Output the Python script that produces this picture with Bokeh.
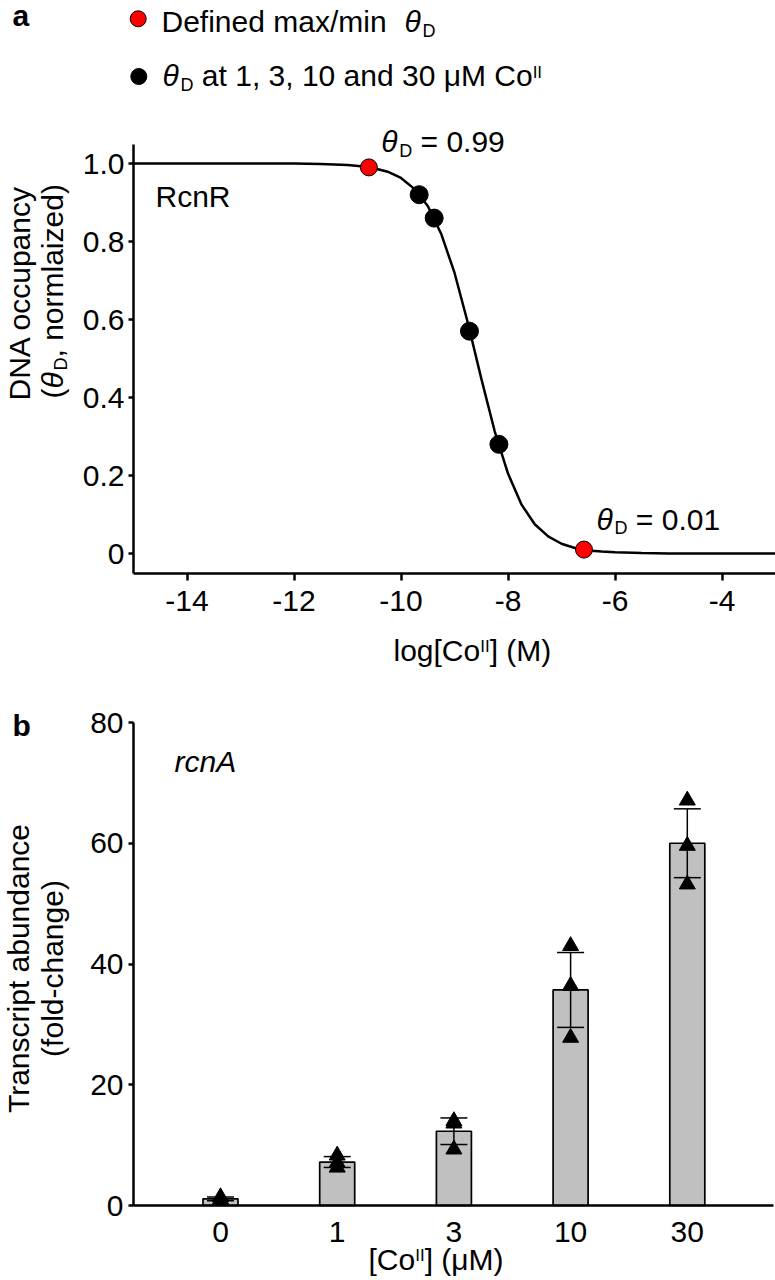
import math
from bokeh.plotting import figure
from bokeh.models import Label, Range1d, FixedTicker
from bokeh.layouts import column
from bokeh.embed import file_html
from bokeh.resources import INLINE

# ---------------- data: panel a ----------------
curve_log_co = [-15, -14, -13, -12, -11.5, -11, -10.75, -10.5, -10.25, -10, -9.75, -9.5,
                -9.25, -9, -8.75, -8.5, -8.25, -8, -7.75, -7.5, -7.25, -7, -6.75, -6.5,
                -6.25, -6, -5.5, -5, -4, -3]
curve_theta = [1.000, 1.000, 1.000, 1.000, 0.999, 0.996, 0.993, 0.988, 0.979, 0.963, 0.935, 0.891,
               0.820, 0.720, 0.591, 0.449, 0.314, 0.205, 0.126, 0.075, 0.044, 0.025, 0.014, 0.008,
               0.005, 0.003, 0.001, 0.000, 0.000, 0.000]
limit_log_co = [-10.6, -6.58]
limit_theta = [0.99, 0.01]
co_log_co = [-9.66, -9.38, -8.72, -8.17]
co_theta = [0.92, 0.86, 0.57, 0.28]
a_xticks = [-14, -12, -10, -8, -6, -4]
a_xtick_labels = ["-14", "-12", "-10", "-8", "-6", "-4"]
a_yticks = [0, 0.2, 0.4, 0.6, 0.8, 1.0]
a_ytick_labels = ["0", "0.2", "0.4", "0.6", "0.8", "1.0"]

# ---------------- data: panel b ----------------
co_um = ["0", "1", "3", "10", "30"]
fold_mean = [1.1, 7.2, 12.3, 35.7, 60.0]
fold_err = [0.3, 0.9, 2.2, 6.2, 5.7]
fold_reps = [[0.9, 1.0, 1.4], [8.3, 7.1, 6.3], [14.0, 13.6, 9.3], [43.0, 36.4, 27.8], [67.1, 59.6, 53.2]]
b_yticks = [0, 20, 40, 60, 80]

FONT = "Liberation Sans"
W = 775
HA, HB = 690, 590
BASE_K = 0.4   # rendered alphabetic baseline sits this many em below the anchor

ADV = {' ': 278, '(': 333, ')': 333, ',': 278, '-': 333, '.': 278, '/': 278, '=': 584,
       '[': 278, ']': 278, 'A': 667, 'C': 722, 'D': 722, 'I': 278, 'M': 833, 'N': 722,
       'R': 722, 'T': 611, 'a': 556, 'b': 556, 'c': 500, 'd': 556, 'e': 556, 'f': 278,
       'g': 556, 'h': 556, 'i': 222, 'l': 222, 'm': 833, 'n': 556, 'o': 556, 'p': 556,
       'r': 333, 's': 500, 't': 278, 'u': 556, 'x': 500, 'y': 500, 'z': 500,
       'μ': 576, 'θ': 556}
for d in "0123456789":
    ADV[d] = 556


def tw(s, size):
    return sum(ADV.get(c, 556) for c in s) / 1000.0 * size


def put(p, conv, cx, cy, text, size, style, align, angle):
    fix = BASE_K * size
    if angle == 0:
        cy -= fix
    else:
        cx -= fix
    dx, dy = conv(cx, cy)
    p.add_layout(Label(x=dx, y=dy, text=text, text_font=FONT,
                       text_font_size=f"{size}px", text_font_style=style,
                       text_align=align, text_baseline="alphabetic",
                       angle=angle, text_color="black"))


def runs(p, conv, x, y, pieces, angle=0.0):
    for text, size, style, shift in pieces:
        lead = len(text) - len(text.lstrip(' '))
        trail = len(text) - len(text.rstrip(' '))
        core = text.strip(' ')
        adv0 = lead * 0.278 * size
        if angle == 0:
            x += adv0
            cx, cy = x, y + shift
        else:
            y -= adv0
            cx, cy = x + shift, y
        put(p, conv, cx, cy, core, size, style, "left", angle)
        if core == "θ" and style == "italic":
            w = 0.6 * size
        else:
            w = tw(core, size)
        w += trail * 0.278 * size
        if angle == 0:
            x += w
        else:
            y -= w


def single(p, conv, x, y, text, size=30, style="normal", align="left", angle=0.0):
    put(p, conv, x, y, text, size, style, align, angle)


def style_axis(axis, tick_out, standoff):
    axis.axis_line_width = 2.5
    axis.axis_line_color = "black"
    axis.major_tick_line_width = 2.5
    axis.major_tick_line_color = "black"
    axis.major_tick_out = tick_out
    axis.major_tick_in = 0
    axis.minor_tick_line_color = None
    axis.major_label_text_font = FONT
    axis.major_label_text_font_size = "30px"
    axis.major_label_text_color = "black"
    axis.major_label_standoff = standoff


def base_fig(w, h, xr, yr):
    p = figure(width=w, height=h, output_backend="svg", toolbar_location=None,
               x_range=xr, y_range=yr, min_border=0, min_border_left=0,
               min_border_right=0, min_border_top=0, min_border_bottom=0)
    p.outline_line_color = None
    p.grid.visible = False
    p.background_fill_color = "white"
    p.border_fill_color = "white"
    return p


# ---------------- panel a (frame covers the whole canvas) ----------------
AX_L, AX_PPU = 133.0, 53.5          # canvas x of log = -15, px per log unit
AY_0, AY_PPU = 553.0, 390.0         # canvas y of theta = 0, px per unit
X_LEFT = -15.0
ya_axis = (AY_0 - 573) / AY_PPU     # x-axis line position
ya_top = (AY_0 - 144) / AY_PPU      # top of y-axis line


def ca(cx, cy):
    return X_LEFT + (cx - AX_L) / AX_PPU, (AY_0 - cy) / AY_PPU


pa = base_fig(W, HA,
              Range1d(ca(0, 0)[0], ca(W, 0)[0]),
              Range1d(ca(0, HA)[1], ca(0, 0)[1]))
style_axis(pa.xaxis[0], 7, 10)
style_axis(pa.yaxis[0], 5, 4)
pa.xaxis.fixed_location = ya_axis
pa.xaxis.bounds = (X_LEFT, -3)
pa.yaxis.fixed_location = X_LEFT
pa.yaxis.bounds = (ya_axis, ya_top)
pa.xaxis.ticker = FixedTicker(ticks=a_xticks)
pa.xaxis.major_label_overrides = dict(zip(a_xticks, a_xtick_labels))
pa.yaxis.ticker = FixedTicker(ticks=a_yticks)
pa.yaxis.major_label_overrides = dict(zip(a_yticks, a_ytick_labels))

pa.line(curve_log_co, curve_theta, line_color="black", line_width=2.5)
pa.scatter(co_log_co, co_theta, size=18, fill_color="black", line_color="black")
pa.scatter(limit_log_co, limit_theta, size=17, fill_color="#ff0000", line_color="black", line_width=1)

# legend markers
lx, ly1 = ca(137.7, 18.3)
lx2, ly2 = ca(138.3, 76)
pa.scatter([lx], [ly1], size=16, fill_color="#ff0000", line_color="black", line_width=1)
pa.scatter([lx2], [ly2], size=16, fill_color="black", line_color="black")

single(pa, ca, 12, 27, "a", style="bold")
runs(pa, ca, 161, 33.3, [("Defined max/min", 30, "normal", 0)])
runs(pa, ca, 404, 33.3, [("θ", 30, "italic", 0), ("D", 18, "normal", 4)])
runs(pa, ca, 162, 87.3, [("θ", 30, "italic", 0), ("D", 18, "normal", 4),
                         (" at 1, 3, 10 and 30 μM Co", 30, "normal", 0), ("II", 17, "normal", -9)])
runs(pa, ca, 380.7, 153.3, [("θ", 30, "italic", 0), ("D", 18, "normal", 4), (" = 0.99", 30, "normal", 0)])
runs(pa, ca, 596, 530.7, [("θ", 30, "italic", 0), ("D", 18, "normal", 4), (" = 0.01", 30, "normal", 0)])
single(pa, ca, 155, 208.3, "RcnR")
runs(pa, ca, 393, 661.7, [("log[Co", 30, "normal", 0), ("II", 17, "normal", -9), ("] (M)", 30, "normal", 0)])
runs(pa, ca, 31, 400, [("DNA occupancy", 30, "normal", 0)], angle=math.pi / 2)
runs(pa, ca, 64, 398, [("(", 30, "normal", 0), ("θ", 30, "italic", 0), ("D", 18, "normal", 4),
                       (", normlaized)", 30, "normal", 0)], angle=math.pi / 2)

# ---------------- panel b (frame covers the whole canvas) ----------------
x_pos = list(range(len(co_um)))
BX_0, BX_PPU = 220.0, 116.7          # canvas x of first category, px per category
BY_0, BY_PPU = 515.0, 483.0 / 80.0   # canvas y of fold = 0, px per unit


def cb(cx, cy):
    return (cx - BX_0) / BX_PPU, (BY_0 - cy) / BY_PPU


xb_axis0 = cb(133, 0)[0]
xb_axis1 = cb(773, 0)[0]

pb = base_fig(W, HB,
              Range1d(cb(0, 0)[0], cb(W, 0)[0]),
              Range1d(cb(0, HB)[1], cb(0, 0)[1]))
style_axis(pb.xaxis[0], 0, 16)
style_axis(pb.yaxis[0], 5, 5)
pb.xaxis.major_tick_line_color = None
pb.xaxis.fixed_location = 0
pb.xaxis.bounds = (xb_axis0, xb_axis1)
pb.xaxis.ticker = FixedTicker(ticks=x_pos)
pb.xaxis.major_label_overrides = dict(zip(x_pos, co_um))
pb.yaxis.fixed_location = xb_axis0
pb.yaxis.bounds = (0, 80)
pb.yaxis.ticker = FixedTicker(ticks=b_yticks)

lo = [m - e for m, e in zip(fold_mean, fold_err)]
hi = [m + e for m, e in zip(fold_mean, fold_err)]
rep_x = [i for i, reps in zip(x_pos, fold_reps) for _ in reps]
rep_y = [v for reps in fold_reps for v in reps]

pb.vbar(x=x_pos, top=fold_mean, width=0.3, fill_color="#c0c0c0", line_color="black", line_width=1.7)
pb.segment(x0=x_pos, y0=lo, x1=x_pos, y1=hi, line_color="black", line_width=1.5)
pb.scatter(x=x_pos + x_pos, y=lo + hi, marker="dash", size=27, line_color="black", line_width=1.5)
pb.scatter(x=rep_x, y=rep_y, marker="triangle", size=16, fill_color="black", line_color="black")

single(pb, cb, 12, 47, "b", style="bold")
single(pb, cb, 174, 83.3, "rcnA", style="italic")
single(pb, cb, 30, 278, "Transcript abundance", align="center", angle=math.pi / 2)
single(pb, cb, 64, 278, "(fold-change)", align="center", angle=math.pi / 2)
runs(pb, cb, 368, 581, [("[Co", 30, "normal", 0), ("II", 17, "normal", -9), ("] (μM)", 30, "normal", 0)])

layout = column(pa, pb)
open("out.html", "w").write(file_html(layout, INLINE))
